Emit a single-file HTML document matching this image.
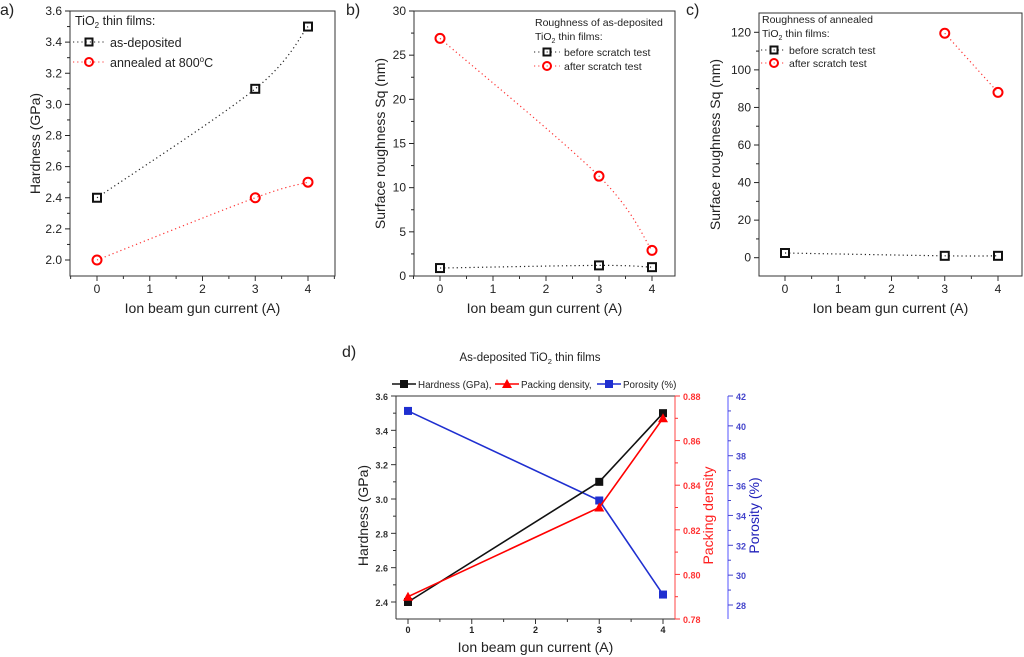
<!DOCTYPE html>
<html><head><meta charset="utf-8"><style>
body{margin:0;background:#fff}
svg{display:block;font-family:"Liberation Sans",Arial,sans-serif}
</style></head><body>
<svg id="s" width="1024" height="657" viewBox="0 0 1024 657" xmlns="http://www.w3.org/2000/svg"></svg>
<script>
const NS="http://www.w3.org/2000/svg";
const S=document.getElementById('s');
// ----- data -----
const xCats=[0,3,4];
const xTicks=[0,1,2,3,4];
const aAsDep=[2.4,3.1,3.5];
const aAnneal=[2.0,2.4,2.5];
const aYTicks=[2.0,2.2,2.4,2.6,2.8,3.0,3.2,3.4,3.6];
const bBefore=[0.9,1.2,1.0];
const bAfter=[26.9,11.3,2.9];
const bYTicks=[0,5,10,15,20,25,30];
const cX=[0,3,4];
const cBefore=[2.5,1.0,1.0];
const cAfterX=[3,4];
const cAfter=[119.5,88];
const cYTicks=[0,20,40,60,80,100,120];
const dHard=[2.4,3.1,3.5];
const dPack=[0.79,0.83,0.87];
const dPor=[41,35,28.7];
const dHTicks=[2.4,2.6,2.8,3.0,3.2,3.4,3.6];
const dPTicks=[0.78,0.80,0.82,0.84,0.86,0.88];
const dPoTicks=[28,30,32,34,36,38,40,42];

function el(tag,attrs,parent,name,txt){
  const e=document.createElementNS(NS,tag);
  for(const k in attrs)e.setAttribute(k,attrs[k]);
  
  
  if(txt!==undefined)e.textContent=txt;
  (parent||S).appendChild(e);return e;
}
function lin(d0,d1,p0,p1){return v=>p0+(v-d0)/(d1-d0)*(p1-p0);}
function smooth(pts){
  let d=`M${pts[0][0]},${pts[0][1]}`;
  for(let i=0;i<pts.length-1;i++){
    const p0=pts[Math.max(0,i-1)],p1=pts[i],p2=pts[i+1],p3=pts[Math.min(pts.length-1,i+2)];
    d+=` C${p1[0]+(p2[0]-p0[0])/6},${p1[1]+(p2[1]-p0[1])/6} ${p2[0]-(p3[0]-p1[0])/6},${p2[1]-(p3[1]-p1[1])/6} ${p2[0]},${p2[1]}`;
  }
  return d;
}
function frame(L,T,R,B,name){
  el('rect',{x:L,y:T,width:R-L,height:B-T,fill:'none',stroke:'#333','stroke-width':1},S,name);
}
function xaxis(sx,L,R,B,ticks,fs,bold,name){
  const g=el('g',{},S,name);
  const ok=x=>x>=L-0.5&&x<=R+0.5;
  ticks.forEach(t=>{
    el('line',{x1:sx(t),x2:sx(t),y1:B,y2:B+5,stroke:'#333'},g,'x-tick');
    if(ok(sx(t+0.5))) el('line',{x1:sx(t+0.5),x2:sx(t+0.5),y1:B,y2:B+3,stroke:'#333'},g,'x-minor-tick');
    el('text',{x:sx(t),y:B+(fs>9?17:14),'font-size':fs,'text-anchor':'middle','font-weight':bold?'bold':'normal',fill:'#222'},g,'x-tick-label',String(t));
  });
  if(ok(sx(-0.5))) el('line',{x1:sx(-0.5),x2:sx(-0.5),y1:B,y2:B+3,stroke:'#333'},g,'x-minor-tick');
}
function yaxis(sy,X,ticks,fmt,fs,col,side,bold,name){
  const g=el('g',{},S,name);
  const dir=side==='left'?-1:1;
  const step=ticks[1]-ticks[0];
  ticks.forEach((t,i)=>{
    el('line',{x1:X,x2:X+dir*5,y1:sy(t),y2:sy(t),stroke:col},g,'y-tick');
    if(i<ticks.length-1) el('line',{x1:X,x2:X+dir*3,y1:sy(t+step/2),y2:sy(t+step/2),stroke:col},g,'y-minor-tick');
    el('text',{x:X+dir*8,y:sy(t)+4,'font-size':fs,'text-anchor':side==='left'?'end':'start',fill:col,'font-weight':bold?'bold':'normal'},g,'y-tick-label',fmt(t));
  });
}
function sq(x,y,g,col,s){el('rect',{x:x-s,y:y-s,width:2*s,height:2*s,fill:'none',stroke:col,'stroke-width':2},g,'square-marker');}
function circ(x,y,g,col,r){el('circle',{cx:x,cy:y,r:r,fill:'none',stroke:col,'stroke-width':2},g,'circle-marker');}
function rtext(x,y,t,fs,col,name){el('text',{x:x,y:y,'font-size':fs,fill:col,'text-anchor':'middle',transform:`rotate(-90 ${x} ${y})`},S,name,t);}

// ===== Panel a =====
(function(){
  const L=70,R=335,T=11,B=276;
  const sx=lin(0,4,97,308), sy=lin(2.0,3.6,260,11);
  el('text',{x:0,y:15,'font-size':16,fill:'#222'},S,'panel-a-label','a)');
  frame(L,T,R,B,'panel-a-frame');
  xaxis(sx,L,R,B,xTicks,12,false,'panel-a-x-axis');
  yaxis(sy,L,aYTicks,v=>v.toFixed(1),12,'#222','left',false,'panel-a-y-axis');
  el('text',{x:(L+R)/2,y:B+37,'font-size':14,'text-anchor':'middle',fill:'#222'},S,'panel-a-x-title','Ion beam gun current (A)');
  rtext(40,(T+B)/2,'Hardness (GPa)',14,'#222','panel-a-y-title');
  const g1=el('g',{},S,'series-as-deposited');
  el('path',{d:smooth(xCats.map((x,i)=>[sx(x),sy(aAsDep[i])])),fill:'none',stroke:'#222','stroke-width':1.2,'stroke-dasharray':'1.2 3'},g1,'as-deposited-line');
  xCats.forEach((x,i)=>sq(sx(x),sy(aAsDep[i]),g1,'#111',4));
  const g2=el('g',{},S,'series-annealed');
  el('path',{d:smooth(xCats.map((x,i)=>[sx(x),sy(aAnneal[i])])),fill:'none',stroke:'#f33','stroke-width':1.2,'stroke-dasharray':'1.2 3'},g2,'annealed-line');
  xCats.forEach((x,i)=>circ(sx(x),sy(aAnneal[i]),g2,'#f00',4.5));
  const lg=el('g',{},S,'panel-a-legend');
  const t=el('text',{x:75,y:25,'font-size':12.5,fill:'#222'},lg,'legend-title');
  t.innerHTML='TiO<tspan font-size="8" dy="3">2</tspan><tspan dy="-3"> thin films:</tspan>';
  el('line',{x1:73,x2:105,y1:42,y2:42,stroke:'#222','stroke-dasharray':'1.2 3'},lg,'legend-line');
  sq(89,42,lg,'#111',3.5);
  el('text',{x:110,y:47,'font-size':12.5,fill:'#222'},lg,'legend-entry','as-deposited');
  el('line',{x1:73,x2:105,y1:62,y2:62,stroke:'#f33','stroke-dasharray':'1.2 3'},lg,'legend-line');
  circ(89,62,lg,'#f00',4);
  const t2=el('text',{x:110,y:67,'font-size':12.5,fill:'#222'},lg,'legend-entry');
  t2.innerHTML='annealed at 800<tspan font-size="8" dy="-5">o</tspan><tspan dy="5">C</tspan>';
})();

// ===== Panel b =====
(function(){
  const L=414,R=675,T=11,B=276;
  const sx=lin(0,4,440,652), sy=lin(0,30,276,11);
  el('text',{x:346,y:15,'font-size':16,fill:'#222'},S,'panel-b-label','b)');
  frame(L,T,R,B,'panel-b-frame');
  xaxis(sx,L,R,B,xTicks,12,false,'panel-b-x-axis');
  yaxis(sy,L,bYTicks,v=>String(v),12,'#222','left',false,'panel-b-y-axis');
  el('text',{x:(L+R)/2,y:B+37,'font-size':14,'text-anchor':'middle',fill:'#222'},S,'panel-b-x-title','Ion beam gun current (A)');
  rtext(385,(T+B)/2,'Surface roughness Sq (nm)',14,'#222','panel-b-y-title');
  const g1=el('g',{},S,'series-before-scratch');
  el('path',{d:smooth(xCats.map((x,i)=>[sx(x),sy(bBefore[i])])),fill:'none',stroke:'#222','stroke-width':1.2,'stroke-dasharray':'1.2 3'},g1,'before-line');
  xCats.forEach((x,i)=>sq(sx(x),sy(bBefore[i]),g1,'#111',4));
  const g2=el('g',{},S,'series-after-scratch');
  el('path',{d:smooth(xCats.map((x,i)=>[sx(x),sy(bAfter[i])])),fill:'none',stroke:'#f33','stroke-width':1.2,'stroke-dasharray':'1.2 3'},g2,'after-line');
  xCats.forEach((x,i)=>circ(sx(x),sy(bAfter[i]),g2,'#f00',4.5));
  const lg=el('g',{},S,'panel-b-legend');
  el('text',{x:535,y:26,'font-size':10.5,fill:'#222'},lg,'legend-title','Roughness of as-deposited');
  const t=el('text',{x:535,y:40,'font-size':10.5,fill:'#222'},lg,'legend-title');
  t.innerHTML='TiO<tspan font-size="7" dy="3">2</tspan><tspan dy="-3"> thin films:</tspan>';
  el('line',{x1:534,x2:560,y1:52,y2:52,stroke:'#222','stroke-dasharray':'1.2 3'},lg,'legend-line');
  sq(547,52,lg,'#111',3.5);
  el('text',{x:564,y:56,'font-size':10.5,fill:'#222'},lg,'legend-entry','before scratch test');
  el('line',{x1:534,x2:560,y1:66,y2:66,stroke:'#f33','stroke-dasharray':'1.2 3'},lg,'legend-line');
  circ(547,66,lg,'#f00',4);
  el('text',{x:564,y:70,'font-size':10.5,fill:'#222'},lg,'legend-entry','after scratch test');
})();

// ===== Panel c =====
(function(){
  const L=759,R=1022,T=13,B=276;
  const sx=lin(0,4,785,998), sy=lin(0,120,257.7,32.3);
  el('text',{x:686,y:15,'font-size':16,fill:'#222'},S,'panel-c-label','c)');
  frame(L,T,R,B,'panel-c-frame');
  xaxis(sx,L,R,B,xTicks,12,false,'panel-c-x-axis');
  yaxis(sy,L,cYTicks,v=>String(v),12,'#222','left',false,'panel-c-y-axis');
  el('text',{x:(L+R)/2,y:B+37,'font-size':14,'text-anchor':'middle',fill:'#222'},S,'panel-c-x-title','Ion beam gun current (A)');
  rtext(720,(T+B)/2,'Surface roughness Sq (nm)',14,'#222','panel-c-y-title');
  const g1=el('g',{},S,'series-before-scratch');
  el('path',{d:smooth(cX.map((x,i)=>[sx(x),sy(cBefore[i])])),fill:'none',stroke:'#222','stroke-width':1.2,'stroke-dasharray':'1.2 3'},g1,'before-line');
  cX.forEach((x,i)=>sq(sx(x),sy(cBefore[i]),g1,'#111',4));
  const g2=el('g',{},S,'series-after-scratch');
  el('path',{d:smooth(cAfterX.map((x,i)=>[sx(x),sy(cAfter[i])])),fill:'none',stroke:'#f33','stroke-width':1.2,'stroke-dasharray':'1.2 3'},g2,'after-line');
  cAfterX.forEach((x,i)=>circ(sx(x),sy(cAfter[i]),g2,'#f00',4.5));
  const lg=el('g',{},S,'panel-c-legend');
  el('text',{x:762,y:23,'font-size':10.5,fill:'#222'},lg,'legend-title','Roughness of annealed');
  const t=el('text',{x:762,y:37,'font-size':10.5,fill:'#222'},lg,'legend-title');
  t.innerHTML='TiO<tspan font-size="7" dy="3">2</tspan><tspan dy="-3"> thin films:</tspan>';
  el('line',{x1:761,x2:786,y1:50,y2:50,stroke:'#222','stroke-dasharray':'1.2 3'},lg,'legend-line');
  sq(774,50,lg,'#111',3.5);
  el('text',{x:789,y:54,'font-size':10.5,fill:'#222'},lg,'legend-entry','before scratch test');
  el('line',{x1:761,x2:786,y1:63,y2:63,stroke:'#f33','stroke-dasharray':'1.2 3'},lg,'legend-line');
  circ(774,63,lg,'#f00',4);
  el('text',{x:789,y:67,'font-size':10.5,fill:'#222'},lg,'legend-entry','after scratch test');
})();

// ===== Panel d =====
(function(){
  const L=396,R=675,T=396,B=619,PX=728;
  const sx=lin(0,4,408,663);
  const sh=lin(2.4,3.6,602,396), sp=lin(0.78,0.88,619,396), so=lin(28,42,605,396);
  el('text',{x:342,y:357,'font-size':16,fill:'#222'},S,'panel-d-label','d)');
  const tt=el('text',{x:530,y:361,'font-size':11.5,'text-anchor':'middle',fill:'#222'},S,'panel-d-title');
  tt.innerHTML='As-deposited TiO<tspan font-size="7.5" dy="3">2</tspan><tspan dy="-3"> thin films</tspan>';
  el('line',{x1:L,x2:R,y1:B,y2:B,stroke:'#333'},S,'panel-d-x-axis-line');
  el('line',{x1:L,x2:R,y1:T,y2:T,stroke:'#333'},S,'panel-d-top-line');
  el('line',{x1:L,x2:L,y1:T,y2:B,stroke:'#333'},S,'panel-d-left-axis-line');
  el('line',{x1:R,x2:R,y1:T,y2:B,stroke:'#f44'},S,'panel-d-right-axis-line');
  el('line',{x1:PX,x2:PX,y1:T,y2:B,stroke:'#55f'},S,'panel-d-porosity-axis-line');
  xaxis(sx,L,R,B,xTicks,9,true,'panel-d-x-axis');
  yaxis(sh,L,dHTicks,v=>v.toFixed(1),9,'#333','left',true,'panel-d-hardness-axis');
  yaxis(sp,R,dPTicks,v=>v.toFixed(2),9,'#f33','right',true,'panel-d-packing-axis');
  yaxis(so,PX,dPoTicks,v=>String(v),9,'#44c','right',true,'panel-d-porosity-axis');
  el('text',{x:(L+R)/2,y:B+33,'font-size':14,'text-anchor':'middle',fill:'#222'},S,'panel-d-x-title','Ion beam gun current (A)');
  rtext(368,(T+B)/2+8,'Hardness (GPa)',14,'#222','panel-d-hardness-title');
  rtext(713,(T+B)/2+8,'Packing density',14,'#f22','panel-d-packing-title');
  rtext(759,(T+B)/2+8,'Porosity (%)',14,'#22b','panel-d-porosity-title');
  function series(vals,sy,col,mark,name){
    const g=el('g',{},S,name);
    el('polyline',{points:xCats.map((x,i)=>sx(x)+','+sy(vals[i])).join(' '),fill:'none',stroke:col,'stroke-width':1.6},g,name+'-line');
    xCats.forEach((x,i)=>{const X=sx(x),Y=sy(vals[i]);
      if(mark==='tri')el('path',{d:`M${X},${Y-5} L${X+5},${Y+4} L${X-5},${Y+4}Z`,fill:col},g,'triangle-marker');
      else el('rect',{x:X-4,y:Y-4,width:8,height:8,fill:col},g,'square-marker');});
  }
  series(dPor,so,'#1f2fd0','sq','porosity-series');
  series(dHard,sh,'#111','sq','hardness-series');
  series(dPack,sp,'#f00','tri','packing-series');
  const lg=el('g',{},S,'panel-d-legend');
  const items=[['Hardness (GPa),','#111','sq',392],['Packing density,','#f00','tri',495],['Porosity (%)','#1f2fd0','sq',597]];
  items.forEach(it=>{
    el('line',{x1:it[3],x2:it[3]+24,y1:384,y2:384,stroke:it[1],'stroke-width':1.6},lg,'legend-line');
    const X=it[3]+12;
    if(it[2]==='tri')el('path',{d:`M${X},379 L${X+5},388 L${X-5},388Z`,fill:it[1]},lg,'legend-marker');
    else el('rect',{x:X-4,y:380,width:8,height:8,fill:it[1]},lg,'legend-marker');
    el('text',{x:it[3]+26,y:388,'font-size':9.8,fill:'#222'},lg,'legend-entry',it[0]);
  });
})();
</script>
</body></html>
